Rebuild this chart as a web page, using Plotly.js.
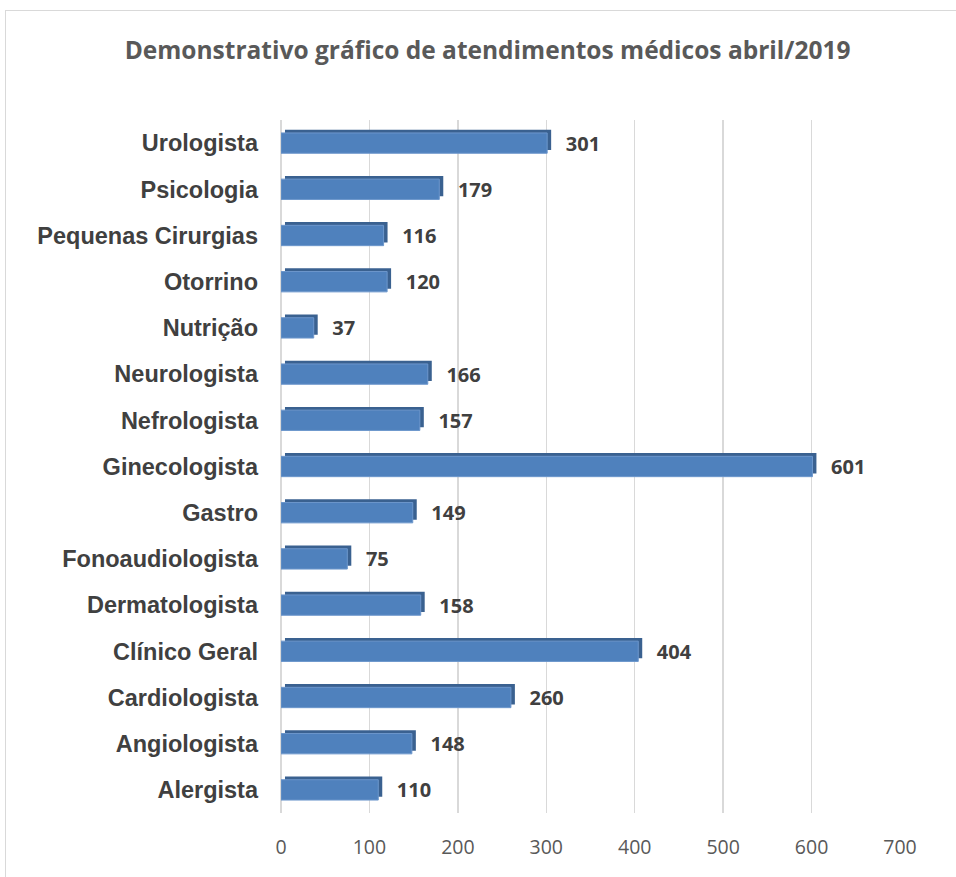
<!DOCTYPE html>
<html>
<head>
<meta charset="utf-8">
<script src="https://cdn.plot.ly/plotly-3.0.1.min.js"></script>
<style>
  html, body { margin: 0; padding: 0; background: #ffffff; }
  #frame { position: absolute; left: 5px; top: 10px; width: 960px; height: 880px; border: 1px solid #d9d9d9; box-sizing: border-box; }
  #chart { position: absolute; left: 0; top: 0; width: 956px; height: 877px; }
</style>
</head>
<body>
<div id="frame"></div>
<div id="chart"></div>
<script>
const categories = ["Alergista", "Angiologista", "Cardiologista", "Clínico Geral", "Dermatologista",
  "Fonoaudiologista", "Gastro", "Ginecologista", "Nefrologista", "Neurologista",
  "Nutrição", "Otorrino", "Pequenas Cirurgias", "Psicologia", "Urologista"];
const atendimentos = [110, 148, 260, 404, 158, 75, 149, 601, 157, 166, 37, 120, 116, 179, 301];
const xTicks = [0, 100, 200, 300, 400, 500, 600, 700];

// depth of the pseudo-3D side/top faces (style constants, in axis units)
const depthX = 4.5;
const depthY = 0.07;
const barW = 0.44;

const sideTrace = {
  type: "bar",
  orientation: "h",
  y: categories,
  x: atendimentos,
  base: atendimentos.map(() => depthX),
  width: barW,
  offset: -barW / 2 + depthY,
  marker: { color: "#3a6190", line: { width: 0 } },
  cliponaxis: false,
  hoverinfo: "skip"
};

const frontTrace = {
  type: "bar",
  orientation: "h",
  y: categories,
  x: atendimentos,
  width: barW,
  offset: -barW / 2,
  marker: { color: "#4f81bd", line: { color: "#6d97cc", width: 1 } },
  text: atendimentos.map(v => "   " + v),
  textposition: "outside",
  constraintext: "none",
  cliponaxis: false,
  textfont: { family: "Open Sans, sans-serif", size: 20, color: "#404040", weight: "bold" },
  hoverinfo: "x+y"
};

const layout = {
  width: 956, height: 877,
  paper_bgcolor: "rgba(0,0,0,0)",
  plot_bgcolor: "rgba(0,0,0,0)",
  margin: { l: 281, r: 56, t: 120, b: 64 },
  showlegend: false,
  barmode: "overlay",
  title: {
    text: "<b>Demonstrativo gráfico de atendimentos médicos abril/2019</b>",
    font: { family: "Open Sans, sans-serif", size: 24.5, color: "#595959" },
    x: 0.51, xanchor: "center", y: 0.943, yanchor: "middle"
  },
  xaxis: {
    range: [0, 700],
    tickvals: xTicks,
    ticktext: xTicks.map(String),
    showgrid: true, gridcolor: "#d9d9d9", gridwidth: 1.5,
    zeroline: true, zerolinecolor: "#d9d9d9", zerolinewidth: 1.5,
    showline: false,
    ticks: "",
    ticklabelstandoff: 20,
    tickfont: { family: "Open Sans, sans-serif", size: 19.5, color: "#595959" },
    fixedrange: true
  },
  yaxis: {
    type: "category",
    categoryorder: "array",
    categoryarray: categories,
    range: [-0.5, 14.5],
    showgrid: false, zeroline: false, showline: false,
    ticks: "",
    ticklabelstandoff: 22,
    tickfont: { family: "Liberation Sans, Arial, sans-serif", size: 23.5, color: "#404040", weight: "bold" },
    fixedrange: true
  }
};

Plotly.newPlot("chart", [sideTrace, frontTrace], layout, { displayModeBar: false, staticPlot: true });
</script>
</body>
</html>
